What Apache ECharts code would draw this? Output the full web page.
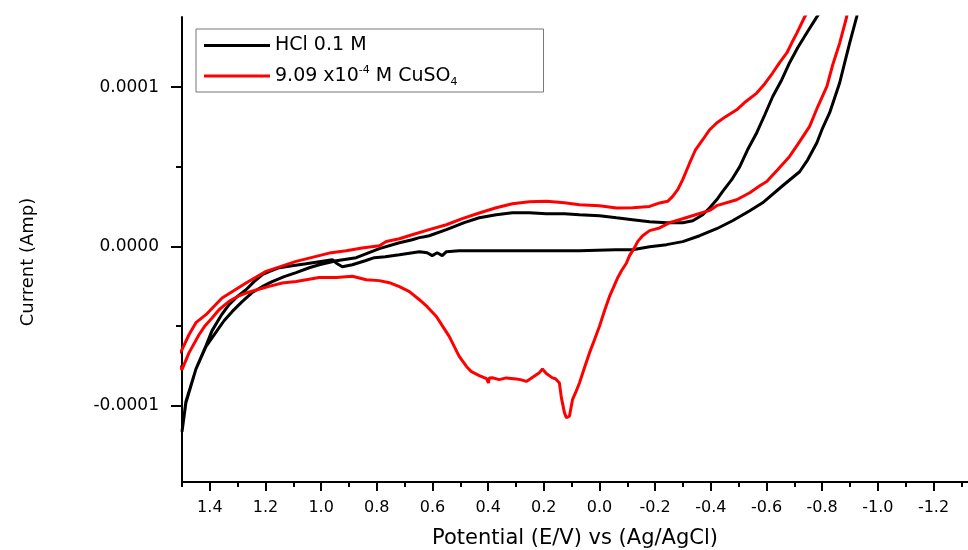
<!DOCTYPE html>
<html><head><meta charset="utf-8">
<script src="https://cdn.jsdelivr.net/npm/echarts@6/dist/echarts.min.js"></script>
<style>html,body{margin:0;padding:0;background:#fff}#c{width:968px;height:550px}</style>
</head><body><div id="c"></div>
<script>
// ---- labels / ticks ----
const seriesNames = ['HCl 0.1 M', '9.09 x10-4 M CuSO4'];
const xAxisTitle = 'Potential (E/V) vs (Ag/AgCl)';
const yAxisTitle = 'Current (Amp)';
const xMajorTicks = [1.4, 1.2, 1.0, 0.8, 0.6, 0.4, 0.2, 0, -0.2, -0.4, -0.6, -0.8, -1.0, -1.2];
const xMinorTicks = [1.5, 1.3, 1.1, 0.9, 0.7, 0.5, 0.3, 0.1, -0.1, -0.3, -0.5, -0.7, -0.9, -1.1, -1.3];
const yMajorTicks = [-0.0001, 0, 0.0001];
const yMinorTicks = [-0.00005, 0.00005];

// ---- HCl 0.1 M (potential V, current in microamps) ----
const hclPotential = [
  1.50, 1.486, 1.450, 1.414, 1.379, 1.349, 1.320, 1.284, 1.248, 1.212,
  1.176, 1.133, 1.090, 1.043, 1.007, 0.946, 0.874, 0.791, 0.719, 0.673,
  0.647, 0.629, 0.612, 0.550, 0.486, 0.432, 0.371, 0.313, 0.252, 0.191,
  0.126, 0.072, 0, -0.061, -0.119, -0.180, -0.241, -0.299, -0.335, -0.371,
  -0.396, -0.421, -0.442, -0.475, -0.504, -0.532, -0.565, -0.594, -0.622, -0.655,
  -0.683, -0.712, -0.745, -0.781, -1.0,
  -0.924, -0.899, -0.881, -0.863, -0.845, -0.827, -0.802, -0.781, -0.748, -0.719,
  -0.658, -0.586, -0.540, -0.478, -0.421, -0.360, -0.299, -0.241, -0.180, -0.119,
  -0.058, 0.072, 0.180, 0.360, 0.504, 0.550, 0.565, 0.583, 0.601, 0.619,
  0.647, 0.719, 0.770, 0.809, 0.842, 0.888, 0.924, 0.942, 0.960, 1.007,
  1.054, 1.104, 1.151, 1.187, 1.212, 1.241, 1.270, 1.302, 1.331, 1.360,
  1.392, 1.414, 1.450, 1.486, 1.50
];
const hclCurrent_uA = [
  -116.4, -98.2, -77.1, -63.0, -54.2, -46.7, -41.0, -34.7, -29.0, -25.3,
  -22.1, -19.0, -16.5, -13.4, -11.5, -9.0, -7.1, -1.4, 2.3, 4.2,
  5.5, 6.1, 6.7, 10.5, 14.9, 18.0, 19.9, 21.2, 21.2, 20.5,
  20.5, 19.9, 19.3, 18.0, 16.8, 15.5, 14.9, 14.9, 16.1, 19.9,
  24.3, 29.3, 34.4, 41.9, 50.1, 60.7, 71.4, 82.7, 94.0, 104.7,
  115.4, 124.8, 134.2, 144.2, 202,
  144.2, 127.9, 115.4, 102.8, 93.4, 84.0, 74.5, 65.1, 54.4, 46.9,
  38.1, 27.4, 22.4, 16.1, 11.1, 6.7, 3.0, 1.1, -0.2, -2.1,
  -2.1, -2.7, -2.7, -2.7, -2.7, -3.3, -5.8, -4.0, -5.8, -4.0,
  -3.3, -5.2, -6.5, -7.1, -9.0, -11.5, -12.8, -10.9, -8.4, -9.6,
  -10.9, -12.1, -13.4, -15.9, -17.8, -22.1, -27.2, -31.6, -36.6, -43.5,
  -52.9, -62.4, -77.1, -97.5, -116.4
];

// ---- 9.09e-4 M CuSO4 (potential V, current in microamps) ----
const cuPotential = [
  1.53, 1.50, 1.475, 1.450, 1.414, 1.356, 1.270, 1.198, 1.090, 0.971,
  0.910, 0.853, 0.791, 0.766, 0.719, 0.673, 0.612, 0.550, 0.493, 0.432,
  0.371, 0.313, 0.252, 0.191, 0.126, 0.072, 0, -0.061, -0.119, -0.180,
  -0.216, -0.245, -0.263, -0.281, -0.299, -0.324, -0.345, -0.371, -0.396, -0.421,
  -0.453, -0.493, -0.525, -0.565, -0.594, -0.622, -0.647, -0.673, -0.691, -0.709,
  -0.737, -0.95,
  -0.888, -0.863, -0.838, -0.817, -0.784, -0.755, -0.719, -0.683, -0.640, -0.601,
  -0.576, -0.540, -0.493, -0.421, -0.396, -0.345, -0.299, -0.252, -0.216, -0.180,
  -0.155, -0.137, -0.126, -0.108, -0.097, -0.079, -0.065, -0.050, -0.036, -0.018,
  0, 0.018, 0.036, 0.054, 0.072, 0.086, 0.097, 0.108, 0.119, 0.126,
  0.137, 0.144, 0.158, 0.169, 0.191, 0.205, 0.216, 0.227, 0.248, 0.263,
  0.284, 0.299, 0.335, 0.360, 0.385, 0.396, 0.399, 0.406, 0.432, 0.460,
  0.478, 0.504, 0.540, 0.565, 0.586, 0.619, 0.647, 0.683, 0.719, 0.755,
  0.791, 0.838, 0.888, 0.946, 1.007, 1.090, 1.140, 1.187, 1.230, 1.270,
  1.302, 1.331, 1.367, 1.392, 1.417, 1.439, 1.475, 1.50, 1.53
];
const cuCurrent_uA = [
  -71, -64.9, -55.5, -47.9, -42.9, -32.4, -23.0, -15.7, -9.4, -4.2,
  -2.7, -1.0, 0.4, 3.1, 4.8, 7.3, 10.5, 13.6, 17.4, 21.0,
  24.3, 26.8, 28.1, 28.3, 27.4, 26.2, 25.6, 24.1, 24.3, 25.1,
  27.3, 28.3, 31.4, 35.6, 41.9, 52.4, 60.7, 67.0, 73.3, 77.5,
  81.5, 85.8, 90.9, 96.3, 102.2, 108.9, 115.4, 121.5, 127.9, 134.0,
  144.1, 205,
  144.1, 127.7, 114.1, 100.5, 87.7, 75.4, 65.8, 56.5, 48.2, 40.8,
  38.1, 33.7, 29.3, 25.6, 22.6, 19.9, 17.4, 14.9, 11.6, 9.9,
  6.7, 3.0, -0.8, -5.8, -10.4, -15.3, -19.8, -25.9, -31.4, -40.4,
  -50.2, -58.6, -66.9, -76.2, -85.8, -91.9, -96.3, -106.7, -107.6, -104.4,
  -95.0, -85.8, -83.1, -82.6, -79.9, -77.0, -79.3, -80.6, -83.1, -84.8,
  -83.7, -83.3, -82.6, -83.7, -82.5, -82.6, -85.8, -83.1, -81.2, -78.7,
  -75.4, -69.1, -56.5, -49.8, -44.0, -37.9, -33.5, -28.4, -25.3, -22.8,
  -21.5, -20.9, -18.8, -19.5, -19.5, -22.0, -23.0, -25.1, -27.2, -29.3,
  -31.6, -34.5, -39.8, -45.0, -49.8, -55.5, -66.9, -77.4, -71
];

function toPairs(xs, ys) { return xs.map((x, i) => [x, ys[i] * 1e-6]); }

const FONT = 'DejaVu Sans';
const xMin = -1.324, xMax = 1.5, yMin = -1.48e-4, yMax = 1.441e-4;

const chart = echarts.init(document.getElementById('c'));
const baseX = {
  type: 'value', min: xMin, max: xMax, inverse: true, position: 'bottom',
  splitLine: { show: false },
  axisLine: { onZero: false }
};
const baseY = {
  type: 'value', min: yMin, max: yMax, position: 'left',
  splitLine: { show: false },
  axisLine: { onZero: false }
};
chart.setOption({
  animation: false,
  backgroundColor: '#ffffff',
  grid: { left: 182, right: 0, top: 17, bottom: 68, outerBoundsMode: 'none', containLabel: false },
  legend: {
    orient: 'vertical', left: 196, top: 29,
    data: seriesNames,
    icon: 'rect',
    itemWidth: 66, itemHeight: 3, itemGap: 10,
    padding: [7, 86, 4, 8],
    borderColor: '#777', borderWidth: 1,
    formatter: function (name) {
      return name === seriesNames[1] ? '9.09 x10{sup|-4} M CuSO{sub|4}' : name;
    },
    textStyle: {
      fontFamily: FONT, fontSize: 19, color: '#000',
      rich: {
        sup: { fontFamily: FONT, fontSize: 11, color: '#000', padding: [0, 0, 11, 0] },
        sub: { fontFamily: FONT, fontSize: 11, color: '#000', padding: [13, 0, 0, 0] }
      }
    }
  },
  xAxis: [
    Object.assign({}, baseX, {
      name: xAxisTitle, nameLocation: 'middle', nameGap: 46,
      nameTextStyle: { fontFamily: FONT, fontSize: 21, color: '#000' },
      axisLine: { onZero: false, lineStyle: { color: '#000', width: 2 } },
      axisTick: { length: 9, customValues: xMajorTicks, lineStyle: { color: '#000', width: 2 } },
      axisLabel: { customValues: xMajorTicks, margin: 18, fontFamily: FONT, fontSize: 16, color: '#000',
        formatter: v => v.toFixed(1) }
    }),
    Object.assign({}, baseX, {
      axisLine: { show: false, onZero: false },
      axisTick: { length: 5, customValues: xMinorTicks, lineStyle: { color: '#000', width: 2 } },
      axisLabel: { show: false }
    })
  ],
  yAxis: [
    Object.assign({}, baseY, {
      axisLine: { onZero: false, lineStyle: { color: '#000', width: 2 } },
      axisTick: { length: 11, customValues: yMajorTicks, lineStyle: { color: '#000', width: 2 } },
      axisLabel: { customValues: yMajorTicks, margin: 23, fontFamily: FONT, fontSize: 17, color: '#000',
        formatter: v => v.toFixed(4) }
    }),
    Object.assign({}, baseY, {
      axisLine: { show: false, onZero: false },
      axisTick: { length: 6, customValues: yMinorTicks, lineStyle: { color: '#000', width: 2 } },
      axisLabel: { show: false }
    })
  ],
  graphic: [{
    type: 'text', x: 28, y: 262, rotation: Math.PI / 2,
    style: { text: yAxisTitle, fontFamily: FONT, fontSize: 18, fill: '#000',
      textAlign: 'center', textVerticalAlign: 'middle' }
  }],
  series: [
    { name: seriesNames[0], type: 'line', xAxisIndex: 0, yAxisIndex: 0,
      data: toPairs(hclPotential, hclCurrent_uA), showSymbol: false, symbol: 'none',
      lineStyle: { color: '#000000', width: 3 }, itemStyle: { color: '#000000' }, clip: true },
    { name: seriesNames[1], type: 'line', xAxisIndex: 0, yAxisIndex: 0,
      data: toPairs(cuPotential, cuCurrent_uA), showSymbol: false, symbol: 'none',
      lineStyle: { color: '#ff0000', width: 3 }, itemStyle: { color: '#ff0000' }, clip: true }
  ]
});
</script>
</body></html>
